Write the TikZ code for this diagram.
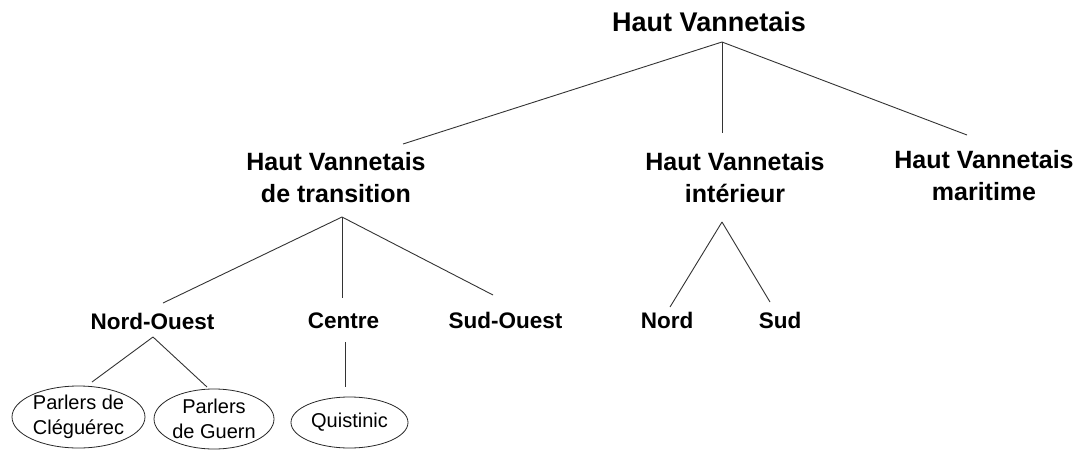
\documentclass[tikz,border=0pt]{standalone}
\usepackage{fontspec}
\setmainfont{Liberation Sans}
\usetikzlibrary{shapes.geometric}
\tikzset{
	rootlabel/.style={font=\fontsize{27}{32}\selectfont\bfseries},
	dialect/.style={align=center, font=\fontsize{25}{32}\selectfont\bfseries},
	area/.style={font=\fontsize{22.5}{27}\selectfont\bfseries},
	parler/.style={ellipse, draw=black!85, line width=0.8pt, align=center, inner sep=0pt, font=\fontsize{20}{25}\selectfont},
	branch/.style={draw=black!80, line width=0.9pt}
}
\begin{document}
\begin{tikzpicture}[x=1pt, y=-1pt]
	\useasboundingbox (0,0) rectangle (1081,450);
	% level 1 and 2
	\node (HV) [rootlabel] at (709,22) {Haut Vannetais};
	\node (HVT) [dialect] at (336,177.5) {Haut Vannetais\\de transition};
	\node (HVI) [dialect] at (735,178) {Haut Vannetais\\intérieur};
	\node (HVM) [dialect] at (984,176) {Haut Vannetais\\maritime};
	% level 3
	\node (NO) [area] at (152.5,321) {Nord-Ouest};
	\node (C) [area] at (343.5,321) {Centre};
	\node (SO) [area] at (505.5,320) {Sud-Ouest};
	\node (N) [area] at (667,320.5) {Nord};
	\node (S) [area] at (780,320) {Sud};
	% parlers
	\node (PC) [parler, minimum width=133, minimum height=62] at (78.5,417) {Parlers de\\Cléguérec};
	\node (PG) [parler, minimum width=120, minimum height=60] at (214,419) {Parlers\\de Guern};
	\node (Q) [parler, minimum width=117, minimum height=51] at (349.5,422.5) {Quistinic};
	\draw[branch] ([shift={(13,20)}]HV.center) -- ([shift={(67,-33.5)}]HVT.center);
	\draw[branch] ([shift={(13,20)}]HV.center) -- ([shift={(-13,-45)}]HVI.center);
	\draw[branch] ([shift={(13,20)}]HV.center) -- ([shift={(-17,-41)}]HVM.center);
	\draw[branch] ([shift={(6,39.5)}]HVT.center) -- ([shift={(10.5,-18)}]NO.center);
	\draw[branch] ([shift={(6,39.5)}]HVT.center) -- ([shift={(-1.5,-23)}]C.center);
	\draw[branch] ([shift={(6,39.5)}]HVT.center) -- ([shift={(-12.5,-25)}]SO.center);
	\draw[branch] ([shift={(-13,44)}]HVI.center) -- ([shift={(3,-13.5)}]N.center);
	\draw[branch] ([shift={(-13,44)}]HVI.center) -- ([shift={(-10,-18)}]S.center);
	\draw[branch] ([shift={(0.5,16)}]NO.center) -- ([shift={(13.5,-35)}]PC.center);
	\draw[branch] ([shift={(0.5,16)}]NO.center) -- ([shift={(-7,-32)}]PG.center);
	\draw[branch] ([shift={(1.5,21)}]C.center) -- ([shift={(-4.5,-35.5)}]Q.center);
\end{tikzpicture}
\end{document}
